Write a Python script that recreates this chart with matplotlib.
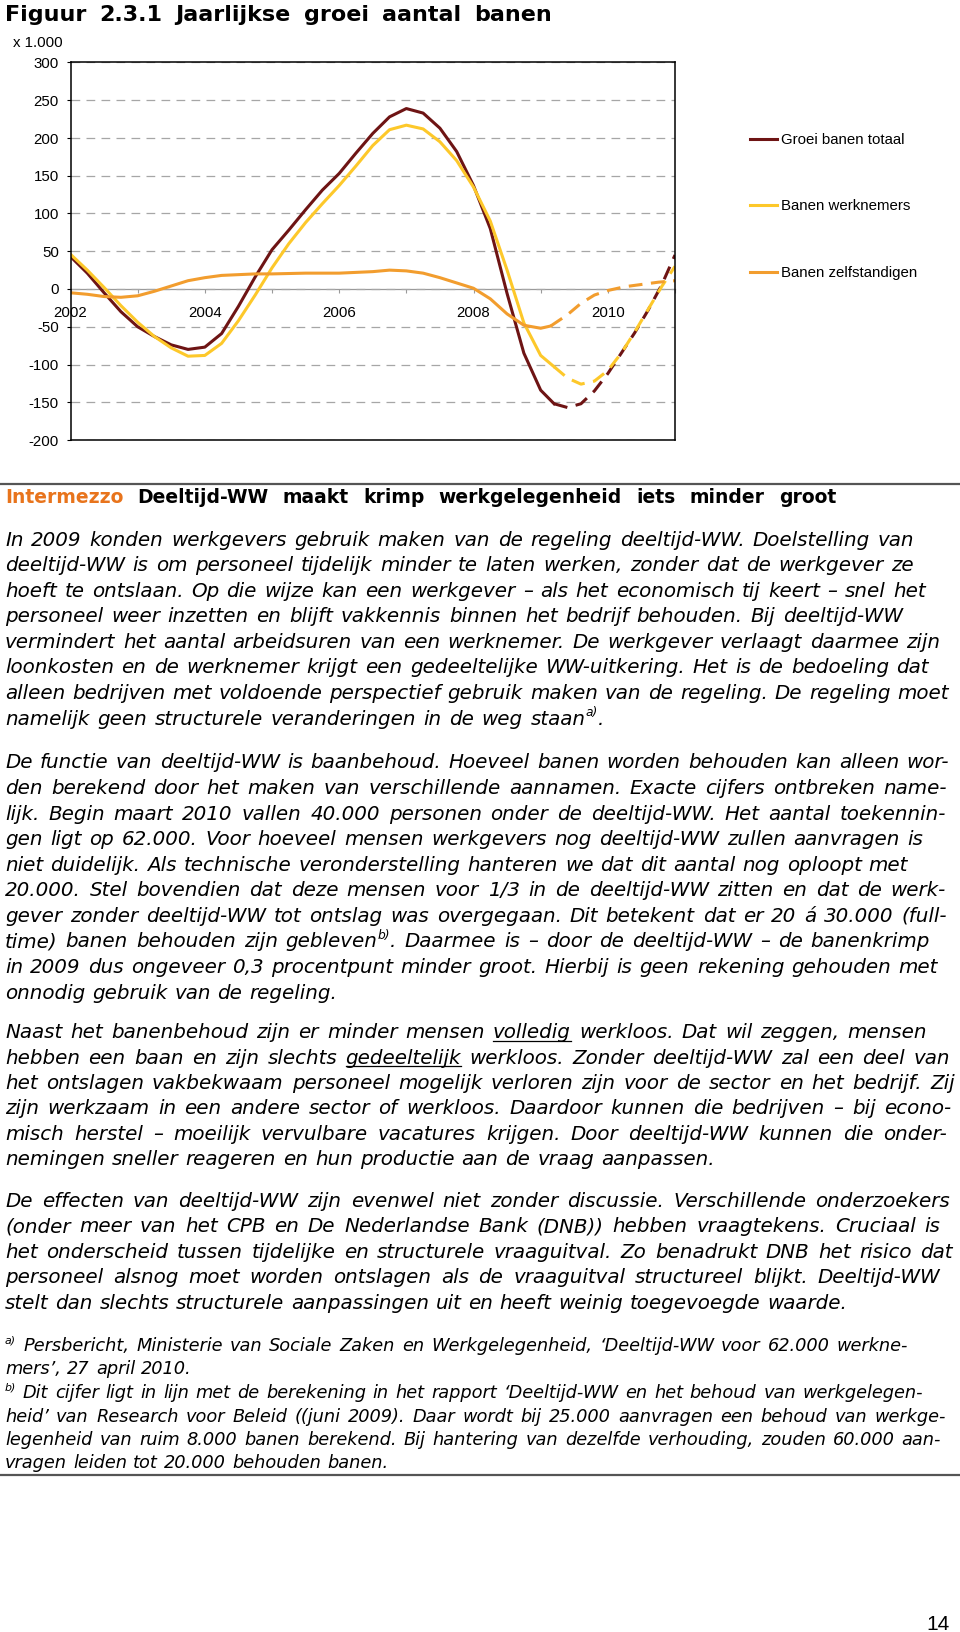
import matplotlib
matplotlib.use("Agg")
import matplotlib.pyplot as plt
from matplotlib.lines import Line2D

plt.rcParams['font.family'] = ['Liberation Sans', 'DejaVu Sans']

# --- grafiekdata (x 1.000 banen) ---
# gerealiseerd (doorgetrokken lijn)
jaren_totaal = [2002.0, 2002.25, 2002.5, 2002.75, 2003.0, 2003.25, 2003.5, 2003.75,
                2004.0, 2004.25, 2004.5, 2004.75, 2005.0, 2005.25, 2005.5, 2005.75,
                2006.0, 2006.25, 2006.5, 2006.75, 2007.0, 2007.25, 2007.5, 2007.75,
                2008.0, 2008.25, 2008.5, 2008.75, 2009.0, 2009.2]
groei_totaal = [43, 21, -5, -30, -50, -63, -74, -80,
                -77, -59, -23, 16, 52, 78, 105, 131,
                153, 180, 206, 228, 239, 233, 213, 182,
                137, 80, -6, -85, -134, -152]
groei_werknemers = [46, 25, 2, -22, -44, -63, -78, -89,
                    -88, -72, -42, -8, 28, 60, 88, 113,
                    137, 163, 190, 211, 217, 212, 195, 170,
                    135, 90, 25, -45, -88, -103]
jaren_zelfst = [2002.0, 2002.25, 2002.5, 2002.75, 2003.0, 2003.25, 2003.5, 2003.75,
                2004.0, 2004.25, 2004.5, 2004.75, 2005.0, 2005.5, 2006.0, 2006.5,
                2006.75, 2007.0, 2007.25, 2007.5, 2007.75, 2008.0, 2008.25, 2008.5,
                2008.75, 2009.0, 2009.15]
groei_zelfst = [-5, -7, -10, -11, -9, -3, 4, 11,
                15, 18, 19, 20, 20, 21, 21, 23,
                25, 24, 21, 15, 8, 1, -13, -33,
                -48, -52, -49]

# raming (gestreepte lijn)
jaren_raming = [2009.2, 2009.4, 2009.6, 2009.8, 2010.0, 2010.2, 2010.4, 2010.6, 2010.8, 2011.0]
raming_totaal = [-152, -157, -152, -135, -112, -85, -58, -28, 5, 45]
raming_werknemers = [-103, -118, -126, -122, -108, -85, -57, -27, 3, 30]
jaren_raming_zelfst = [2009.15, 2009.4, 2009.6, 2009.8, 2010.0, 2010.25, 2010.5, 2010.75, 2011.0]
raming_zelfst = [-49, -34, -19, -8, -2, 3, 6, 9, 11]

reeksen = ['Groei banen totaal', 'Banen werknemers', 'Banen zelfstandigen']
y_ticks = [-200, -150, -100, -50, 0, 50, 100, 150, 200, 250, 300]
x_ticks = [2002, 2003, 2004, 2005, 2006, 2007, 2008, 2009, 2010, 2011]
x_labels = ['2002', '', '2004', '', '2006', '', '2008', '', '2010', '']

# --- tekst ---
titel = 'Figuur 2.3.1 Jaarlijkse groei aantal banen'
kop = 'Intermezzo Deeltijd-WW maakt krimp werkgelegenheid iets minder groot'

alinea_1 = [
    'In 2009 konden werkgevers gebruik maken van de regeling deeltijd-WW. Doelstelling van',
    'deeltijd-WW is om personeel tijdelijk minder te laten werken, zonder dat de werkgever ze',
    'hoeft te ontslaan. Op die wijze kan een werkgever \u2013 als het economisch tij keert \u2013 snel het',
    'personeel weer inzetten en blijft vakkennis binnen het bedrijf behouden. Bij deeltijd-WW',
    'vermindert het aantal arbeidsuren van een werknemer. De werkgever verlaagt daarmee zijn',
    'loonkosten en de werknemer krijgt een gedeeltelijke WW-uitkering. Het is de bedoeling dat',
    'alleen bedrijven met voldoende perspectief gebruik maken van de regeling. De regeling moet',
    'namelijk geen structurele veranderingen in de weg staan^{a)}.',
]
alinea_2 = [
    'De functie van deeltijd-WW is baanbehoud. Hoeveel banen worden behouden kan alleen wor-',
    'den berekend door het maken van verschillende aannamen. Exacte cijfers ontbreken name-',
    'lijk. Begin maart 2010 vallen 40.000 personen onder de deeltijd-WW. Het aantal toekennin-',
    'gen ligt op 62.000. Voor hoeveel mensen werkgevers nog deeltijd-WW zullen aanvragen is',
    'niet duidelijk. Als technische veronderstelling hanteren we dat dit aantal nog oploopt met',
    '20.000. Stel bovendien dat deze mensen voor 1/3 in de deeltijd-WW zitten en dat de werk-',
    'gever zonder deeltijd-WW tot ontslag was overgegaan. Dit betekent dat er 20 \u00e1 30.000 (full-',
    'time) banen behouden zijn gebleven^{b)}. Daarmee is \u2013 door de deeltijd-WW \u2013 de banenkrimp',
    'in 2009 dus ongeveer 0,3 procentpunt minder groot. Hierbij is geen rekening gehouden met',
    'onnodig gebruik van de regeling.',
]
alinea_3 = [
    'Naast het banenbehoud zijn er minder mensen _volledig werkloos. Dat wil zeggen, mensen',
    'hebben een baan en zijn slechts _gedeeltelijk werkloos. Zonder deeltijd-WW zal een deel van',
    'het ontslagen vakbekwaam personeel mogelijk verloren zijn voor de sector en het bedrijf. Zij',
    'zijn werkzaam in een andere sector of werkloos. Daardoor kunnen die bedrijven \u2013 bij econo-',
    'misch herstel \u2013 moeilijk vervulbare vacatures krijgen. Door deeltijd-WW kunnen die onder-',
    'nemingen sneller reageren en hun productie aan de vraag aanpassen.',
]
alinea_4 = [
    'De effecten van deeltijd-WW zijn evenwel niet zonder discussie. Verschillende onderzoekers',
    '(onder meer van het CPB en De Nederlandse Bank (DNB)) hebben vraagtekens. Cruciaal is',
    'het onderscheid tussen tijdelijke en structurele vraaguitval. Zo benadrukt DNB het risico dat',
    'personeel alsnog moet worden ontslagen als de vraaguitval structureel blijkt. Deeltijd-WW',
    'stelt dan slechts structurele aanpassingen uit en heeft weinig toegevoegde waarde.',
]
voetnoten = [
    '^{a)} Persbericht, Ministerie van Sociale Zaken en Werkgelegenheid, \u2018Deeltijd-WW voor 62.000 werkne-',
    'mers\u2019, 27 april 2010.',
    '^{b)} Dit cijfer ligt in lijn met de berekening in het rapport \u2018Deeltijd-WW en het behoud van werkgelegen-',
    'heid\u2019 van Research voor Beleid ((juni 2009). Daar wordt bij 25.000 aanvragen een behoud van werkge-',
    'legenheid van ruim 8.000 banen berekend. Bij hantering van dezelfde verhouding, zouden 60.000 aan-',
    'vragen leiden tot 20.000 behouden banen.',
]

# rechterkant van elke regel (opmaak, pixels)
eind_1 = [914, 914, 926, 903, 940, 929, 949, 604]
eind_2 = [949, 947, 946, 923, 908, 946, 947, 930, 938, 337]
eind_3 = [927, 950, 955, 951, 947, 715]
eind_4 = [950, 940, 953, 940, 847]
eind_vn = [908, 192, 923, 946, 941, 388]

ROOD = '#6E1414'
GEEL = '#FDC82A'
ORANJE = '#F29D2E'
KOP_ORANJE = '#E8741C'
PX = 100 / 72.0
TEKST = ['DejaVu Sans']

fig = plt.figure(figsize=(9.6, 16.32), dpi=100)
page = fig.add_axes([0, 0, 1, 1])
page.set_xlim(0, 960)
page.set_ylim(1632, 0)
page.axis('off')
renderer = fig.canvas.get_renderer()


def parse(word):
    underline = word.startswith('_')
    if underline:
        word = word[1:]
    segs = []
    while '^{' in word:
        pre, rest = word.split('^{', 1)
        sup, word = rest.split('}', 1)
        if pre:
            segs.append((pre, False))
        segs.append((sup, True))
    if word:
        segs.append((word, False))
    return segs, underline


def build(y, text, size, style, weight, colors):
    words = text.split(' ')
    if colors is None:
        colors = ['black'] * len(words)
    items = []
    for w, c in zip(words, colors):
        segs, ul = parse(w)
        arts = []
        width = 0
        for s, sup in segs:
            fs = size * 0.62 if sup else size
            dy = -size * PX * 0.42 if sup else 0
            t = page.text(0, y + dy, s, fontsize=fs, fontstyle=style, fontweight=weight,
                          family=TEKST, color=c, va='baseline', ha='left')
            arts.append((t, width))
            width += t.get_window_extent(renderer).width
        items.append((arts, width, ul, c))
    return items


def natural_width(text, size, style='italic', weight='normal'):
    items = build(0, text, size, style, weight, None)
    for arts, _, _, _ in items:
        for t, _ in arts:
            t.remove()
    return sum(i[1] for i in items) + (len(items) - 1) * size * PX * 0.318


def fit_size(lines, ends, size):
    ratio = min((e - 5) / natural_width(t, size) for t, e in zip(lines, ends))
    return size * min(1.0, ratio * 0.995)


def line(y, text, x0, x1, size, style='italic', weight='normal', colors=None):
    items = build(y, text, size, style, weight, colors)
    total = sum(i[1] for i in items)
    space = size * PX * 0.318
    gap = (x1 - x0 - total) / (len(items) - 1) if len(items) > 1 else space
    gap = max(gap, 0.5 * space)
    x = x0
    for arts, width, ul, c in items:
        for t, off in arts:
            t.set_x(x + off)
        if ul:
            page.plot([x, x + width], [y + 2.5, y + 2.5], color=c, lw=0.9)
        x += width + gap


def paragraph(lines, ends, first, pitch, size):
    for i, (txt, end) in enumerate(zip(lines, ends)):
        line(first + i * pitch, txt, 5, end, size)


# titel en koppen
line(21, titel, 5, 552, 16, style='normal', weight='bold')
page.text(13, 47, 'x 1.000', fontsize=10.8, va='baseline')
page.plot([0, 960], [484, 484], color='#555555', lw=1.6)
kop_kleuren = [KOP_ORANJE] + ['black'] * (len(kop.split(' ')) - 1)
line(503, kop, 5, 836, 13.5, style='normal', weight='bold', colors=kop_kleuren)

body = fit_size(alinea_1 + alinea_2 + alinea_3 + alinea_4,
                eind_1 + eind_2 + eind_3 + eind_4, 15.5)
noot = fit_size(voetnoten, eind_vn, 13.5)

paragraph(alinea_1, eind_1, 545.6, 25.56, body)
paragraph(alinea_2, eind_2, 768.5, 25.56, body)
paragraph(alinea_3, eind_3, 1038.1, 25.4, body)
paragraph(alinea_4, eind_4, 1206.8, 25.5, body)
paragraph(voetnoten, eind_vn, 1351, 23.5, noot)
page.plot([0, 960], [1475, 1475], color='#555555', lw=1.6)
page.text(950, 1630, '14', ha='right', va='baseline', fontsize=15)

# --- grafiek ---
ax = fig.add_axes([70.5 / 960, 1 - 440 / 1632, 604.5 / 960, 377.5 / 1632])
ax.set_xlim(2002, 2011)
ax.set_ylim(-200, 300)

ax.plot(jaren_totaal, groei_totaal, color=ROOD, lw=2.2)
ax.plot(jaren_raming, raming_totaal, color=ROOD, lw=2.2, ls=(0, (4.5, 2.8)))
ax.plot(jaren_totaal, groei_werknemers, color=GEEL, lw=2.2)
ax.plot(jaren_raming, raming_werknemers, color=GEEL, lw=2.2, ls=(0, (4.5, 2.8)))
ax.plot(jaren_zelfst, groei_zelfst, color=ORANJE, lw=2.2)
ax.plot(jaren_raming_zelfst, raming_zelfst, color=ORANJE, lw=2.2, ls=(0, (4.5, 2.8)))

ax.set_yticks(y_ticks)
ax.set_yticklabels([str(v) for v in y_ticks], fontsize=10.8)
ax.yaxis.grid(True, color='#A6A6A6', lw=0.9, ls=(0, (7, 5)))
ax.tick_params(axis='y', direction='out', length=3, width=0.8, pad=5.4)
ax.tick_params(axis='x', bottom=False, labelbottom=False)
for sp in ax.spines.values():
    sp.set_color('black')
    sp.set_linewidth(1.1)

sec = ax.secondary_xaxis(0.4)
sec.set_xticks(x_ticks)
sec.set_xticklabels(x_labels, fontsize=10.8)
sec.spines['bottom'].set_color('#9A9A9A')
sec.spines['bottom'].set_linewidth(0.9)
sec.tick_params(axis='x', direction='out', length=3, width=0.8, color='#9A9A9A', pad=9)

handles = [Line2D([], [], color=c, lw=2.2) for c in (ROOD, GEEL, ORANJE)]
ax.legend(handles, reeksen, loc='upper left', bbox_to_anchor=(750 / 960, 1 - 133 / 1632),
          bbox_transform=fig.transFigure, frameon=False, fontsize=10.8,
          handlelength=1.8, handletextpad=0.27, labelspacing=3.5,
          borderpad=0, borderaxespad=0)

fig.savefig('out.png', dpi=100)
